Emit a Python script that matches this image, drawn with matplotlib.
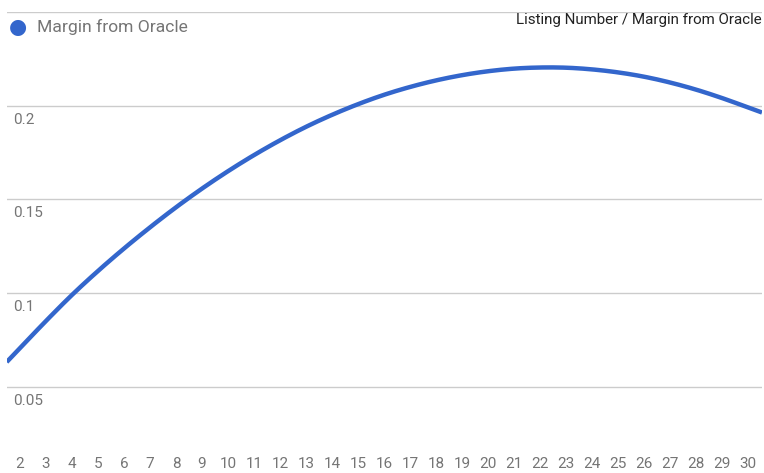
import numpy as np
import matplotlib
matplotlib.use("Agg")
import matplotlib.pyplot as plt

plt.rcParams['font.family'] = ['Roboto', 'DejaVu Sans']

# Listing number vs. margin from oracle
listing = [2, 3, 4, 5, 6, 7, 8, 9, 10, 11, 12, 13, 14, 15, 16,
           17, 18, 19, 20, 21, 22, 23, 24, 25, 26, 27, 28, 29, 30]
margin = [0.0705, 0.0850, 0.0989, 0.1117, 0.1237, 0.1350, 0.1457, 0.1557,
          0.1650, 0.1736, 0.1815, 0.1887, 0.1951, 0.2008, 0.2058, 0.2100,
          0.2135, 0.2163, 0.2184, 0.2198, 0.2204, 0.2203, 0.2194, 0.2178,
          0.2155, 0.2124, 0.2086, 0.2041, 0.1991]
y_ticks = [0.05, 0.1, 0.15, 0.2, 0.25]
y_tick_labels = ["0.05", "0.1", "0.15", "0.2", ""]
series_name = "Margin from Oracle"
chart_title = "Listing Number / Margin from Oracle"

LINE = "#3366cc"
GRID = "#cccccc"
LABEL = "#757575"

X_MIN, X_MAX = 1.49, 30.54
Y_MIN, Y_MAX = 0.025, 0.25


def smooth_curve(x, y, x_lo, x_hi, n_sub=20):
    """Cubic Hermite curve through the points, continued with the end
    slope and curvature out to the plot edges."""
    x = np.asarray(x, float)
    y = np.asarray(y, float)
    m = np.gradient(y, x)
    xs, ys = [], []
    xe = np.linspace(x_lo, x[0], 6)[:-1]
    curv0 = (m[1] - m[0]) / (x[1] - x[0])
    xs.extend(xe)
    ys.extend(y[0] + m[0] * (xe - x[0]) + 0.5 * curv0 * (xe - x[0]) ** 2)
    for i in range(len(x) - 1):
        h = x[i + 1] - x[i]
        t = np.linspace(0, 1, n_sub, endpoint=False)
        h00 = 2 * t**3 - 3 * t**2 + 1
        h10 = t**3 - 2 * t**2 + t
        h01 = -2 * t**3 + 3 * t**2
        h11 = t**3 - t**2
        xs.extend(x[i] + t * h)
        ys.extend(h00 * y[i] + h10 * h * m[i] + h01 * y[i + 1] + h11 * h * m[i + 1])
    xe = np.linspace(x[-1], x_hi, 6)
    curv1 = (m[-1] - m[-2]) / (x[-1] - x[-2])
    xs.extend(xe)
    ys.extend(y[-1] + m[-1] * (xe - x[-1]) + 0.5 * curv1 * (xe - x[-1]) ** 2)
    return np.array(xs), np.array(ys)


W, H = 764, 473
fig = plt.figure(figsize=(W / 100, H / 100), dpi=100)
left_px, right_px, top_px, bottom_px = 6.7, 762, 12.1, 433.3
ax = fig.add_axes([left_px / W, 1 - bottom_px / H,
                   (right_px - left_px) / W, (bottom_px - top_px) / H])
ax.set_xlim(X_MIN, X_MAX)
ax.set_ylim(Y_MIN, Y_MAX)

for s in ax.spines.values():
    s.set_visible(False)

for v in y_ticks:
    ax.axhline(v, color=GRID, lw=1, zorder=1)

cx, cy = smooth_curve(listing, margin, X_MIN, X_MAX)
ax.plot(cx, cy, color=LINE, lw=3.2, solid_capstyle='butt', zorder=3)

# y labels sit inside the plot, just under each gridline
ax.set_yticks([])
for v, lab in zip(y_ticks, y_tick_labels):
    if lab:
        ax.annotate(lab, xy=(0, v), xycoords=('axes fraction', 'data'),
                    xytext=(6, -7), textcoords='offset pixels',
                    ha='left', va='top', fontsize=11, color=LABEL)

ax.set_xticks(listing)
ax.set_xticklabels([str(v) for v in listing], fontsize=11, color=LABEL)
ax.tick_params(axis='x', length=0, pad=17)

# legend and title
fig.text(18 / W, 1 - 27 / H, "\u25CF", fontsize=15, color=LINE,
         ha='center', va='center')
fig.text(37 / W, 1 - 27 / H, series_name, fontsize=12.6, color=LABEL,
         ha='left', va='center')
fig.text(762 / W, 1 - 20 / H, chart_title, fontsize=10.9, color="#222222",
         ha='right', va='center')

fig.savefig("out.png", dpi=100)
